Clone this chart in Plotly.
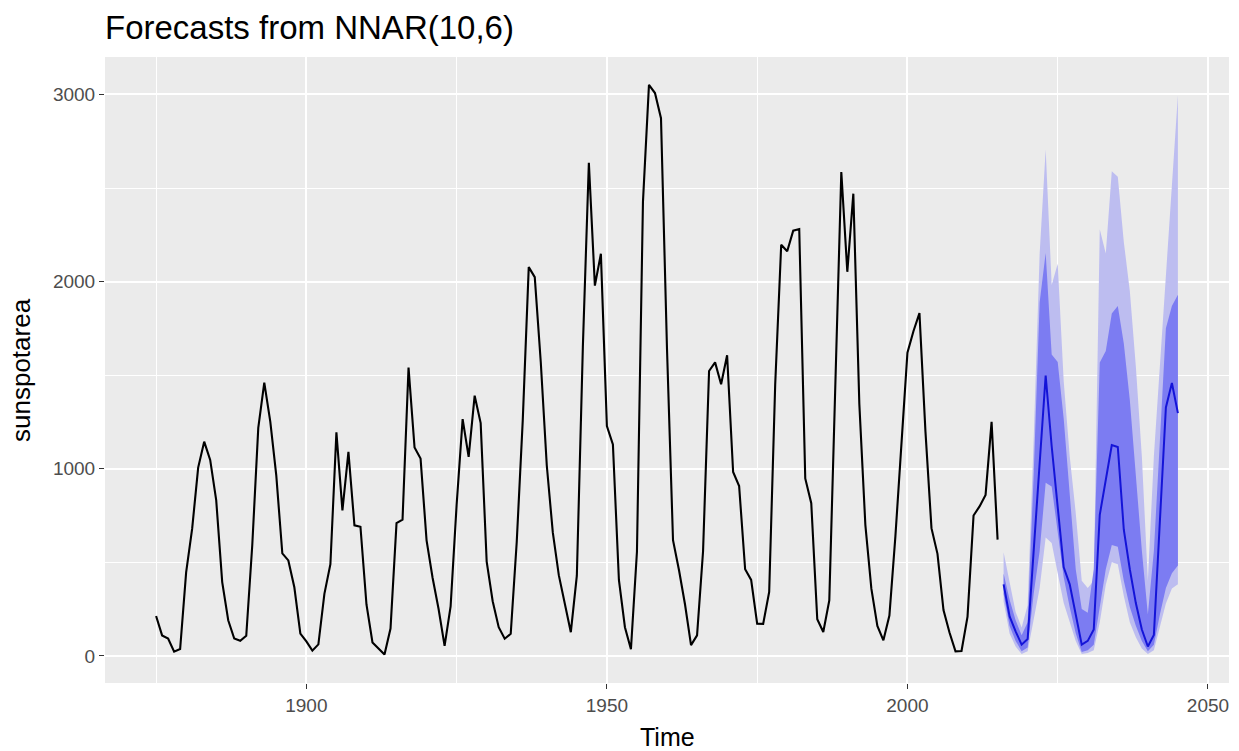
import plotly.graph_objects as go

# Annual average sunspot area, 1875-2015
hist_start = 1875
sunspotarea = [
    213.1, 109.3, 92.9, 22.2, 36.3, 446.5, 679.8, 1006.0, 1144.7, 1047.1,
    832.2, 394.5, 190.4, 92.5, 80.2, 107.5, 590.8, 1218.4, 1459.6, 1252.0,
    962.7, 547.3, 510.0, 366.5, 119.2, 77.3, 27.8, 61.5, 331.5, 489.6,
    1194.4, 777.0, 1089.8, 697.3, 690.0, 274.7, 71.6, 37.6, 7.2, 145.8,
    709.3, 728.3, 1540.5, 1113.1, 1054.9, 617.3, 417.6, 250.3, 53.3, 263.8,
    807.6, 1264.8, 1063.7, 1390.3, 1243.6, 503.2, 291.9, 153.2, 91.6, 117.8,
    608.5, 1257.2, 2077.3, 2023.6, 1569.2, 1017.0, 659.6, 431.4, 275.3, 126.5,
    428.2, 1649.2, 2635.2, 1978.3, 2148.4, 1228.5, 1130.3, 405.4, 153.3, 35.1,
    556.1, 2425.9, 3051.1, 3007.3, 2873.0, 1639.8, 618.2, 457.2, 274.5, 57.3,
    109.4, 559.1, 1522.2, 1568.1, 1451.1, 1606.6, 982.5, 907.4, 462.5, 406.1,
    172.3, 170.8, 341.7, 1449.1, 2196.4, 2162.4, 2271.9, 2280.5, 948.1, 815.4,
    196.0, 127.4, 296.6, 1499.0, 2585.7, 2052.2, 2469.7, 1345.0, 700.2, 359.0,
    160.4, 83.1, 215.5, 640.0, 1120.0, 1620.0, 1734.6, 1831.3, 1198.4, 682.2,
    545.0, 245.0, 125.0, 24.0, 26.0, 210.0, 750.0, 798.7, 860.0, 1250.3,
    621.2,
]
hist_years = [hist_start + i for i in range(len(sunspotarea))]

# NNAR(10,6) forecasts, 2016-2045, with 80% and 95% prediction intervals
fc_start = 2016
fc_mean = [382, 211, 131, 60, 90, 560, 1040, 1498, 1120, 790,
           473, 382, 221, 60, 80, 141, 754, 945, 1126, 1116,
           674, 463, 282, 141, 50, 111, 724, 1327, 1458, 1297]
lo80 = [330, 160, 80, 25, 45, 330, 560, 925, 905, 660,
        420, 260, 121, 20, 30, 60, 261, 463, 593, 583,
        402, 261, 161, 80, 25, 60, 221, 362, 442, 483]
hi80 = [440, 300, 190, 110, 180, 965, 1890, 2153, 1610, 1570,
        1267, 865, 463, 250, 230, 463, 1568, 1629, 1830, 1870,
        1669, 1367, 965, 563, 221, 560, 1150, 1750, 1870, 1930]
lo95 = [290, 120, 50, 10, 25, 200, 362, 633, 603, 442,
        282, 181, 80, 10, 15, 30, 180, 380, 500, 490,
        320, 180, 100, 40, 10, 30, 150, 280, 360, 382]
hi95 = [553, 400, 235, 151, 271, 1150, 2150, 2706, 1982, 2095,
        1468, 1066, 764, 402, 362, 402, 2280, 2150, 2590, 2560,
        2212, 1950, 1548, 1066, 402, 1066, 1568, 2030, 2513, 2996]
fc_years = [fc_start + i for i in range(len(fc_mean))]

x_ticks = [1900, 1950, 2000, 2050]
x_minor = [1875, 1925, 1975, 2025]
y_ticks = [0, 1000, 2000, 3000]
y_minor = [500, 1500, 2500]

panel_bg = "#EBEBEB"
band95 = "rgb(189,189,240)"
band80 = "rgb(124,124,242)"
font_family = "Liberation Sans, Arial, sans-serif"

fig = go.Figure()

# 95% interval
fig.add_trace(go.Scatter(x=fc_years, y=lo95, mode="lines", line=dict(width=0),
                         hoverinfo="skip", showlegend=False))
fig.add_trace(go.Scatter(x=fc_years, y=hi95, mode="lines", line=dict(width=0),
                         fill="tonexty", fillcolor=band95,
                         hoverinfo="skip", showlegend=False))
# 80% interval
fig.add_trace(go.Scatter(x=fc_years, y=lo80, mode="lines", line=dict(width=0),
                         hoverinfo="skip", showlegend=False))
fig.add_trace(go.Scatter(x=fc_years, y=hi80, mode="lines", line=dict(width=0),
                         fill="tonexty", fillcolor=band80,
                         hoverinfo="skip", showlegend=False))
# point forecasts
fig.add_trace(go.Scatter(x=fc_years, y=fc_mean, mode="lines",
                         line=dict(color="#1414D8", width=2),
                         showlegend=False))
# observed series
fig.add_trace(go.Scatter(x=hist_years, y=sunspotarea, mode="lines",
                         line=dict(color="black", width=2.1),
                         showlegend=False))

axis_common = dict(
    showline=False, zeroline=False,
    ticks="outside", ticklen=5, tickwidth=1.2, tickcolor="#333333",
    tickfont=dict(family=font_family, size=19, color="#4D4D4D"),
    showgrid=True, gridcolor="white", gridwidth=2.2,
)

fig.update_layout(
    width=1239, height=751,
    margin=dict(l=105, r=10, t=57, b=68),
    paper_bgcolor="white", plot_bgcolor=panel_bg,
    title=dict(text="Forecasts from NNAR(10,6)", xref="paper", x=0, xanchor="left",
               yref="container", y=1 - 27 / 751, yanchor="middle",
               font=dict(family=font_family, size=33, color="black")),
    xaxis=dict(range=[1866.5, 2053.5], tickmode="array", tickvals=x_ticks,
               ticktext=[str(v) for v in x_ticks],
               minor=dict(tickmode="array", tickvals=x_minor, showgrid=True,
                          gridcolor="white", gridwidth=1.1, ticks=""),
               **axis_common),
    yaxis=dict(range=[-145, 3200], tickmode="array", tickvals=y_ticks,
               ticktext=[str(v) for v in y_ticks],
               minor=dict(tickmode="array", tickvals=y_minor, showgrid=True,
                          gridcolor="white", gridwidth=1.1, ticks=""),
               **axis_common),
    annotations=[
        dict(text="Time", xref="paper", yref="paper", x=0.5, y=-(737 - 683) / 626,
             xanchor="center", yanchor="middle", showarrow=False,
             font=dict(family=font_family, size=25, color="black")),
        dict(text="sunspotarea", xref="paper", yref="paper", x=-(105 - 21) / 1124, y=0.5,
             xanchor="center", yanchor="middle", textangle=-90, showarrow=False,
             font=dict(family=font_family, size=26, color="black")),
    ],
)

fig.write_html("out.html")
